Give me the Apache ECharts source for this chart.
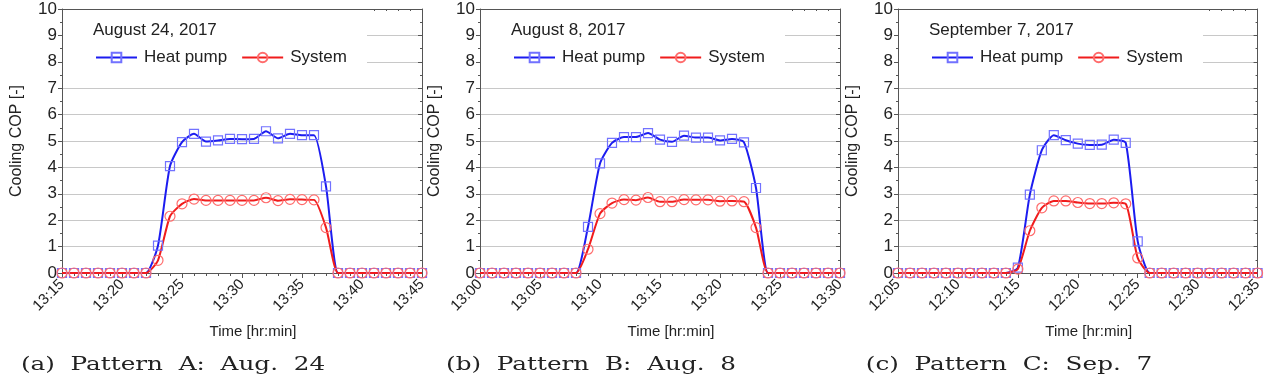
<!DOCTYPE html>
<html>
<head>
<meta charset="utf-8">
<script src="https://cdn.jsdelivr.net/npm/echarts@6/dist/echarts.min.js"></script>
<style>
html, body { margin: 0; padding: 0; background: #fff; }
#main { width: 1265px; height: 380px; }
</style>
</head>
<body>
<div id="main"></div>
<script>
// start of each panel's time axis, in minutes after midnight (one sample per minute, 31 samples)
var startA = 13 * 60 + 15;
var startB = 13 * 60;
var startC = 12 * 60 + 5;

var dateLabels = ['August 24, 2017', 'August 8, 2017', 'September 7, 2017'];
var captions = ['(a)  Pattern  A:  Aug.  24', '(b)  Pattern  B:  Aug.  8', '(c)  Pattern  C:  Sep.  7'];
var seriesNames = ['Heat pump', 'System'];

// Pattern A: Aug. 24, 13:15 - 13:45
var hpA = [0, 0, 0, 0, 0, 0, 0, 0,
    1.04, 4.05, 4.96, 5.27, 4.98, 5.02, 5.08, 5.07, 5.08, 5.37, 5.1, 5.27, 5.22, 5.22, 3.28,
    0, 0, 0, 0, 0, 0, 0, 0];
var sysA = [0, 0, 0, 0, 0, 0, 0, 0,
    0.48, 2.15, 2.62, 2.8, 2.75, 2.75, 2.75, 2.75, 2.75, 2.85, 2.74, 2.79, 2.78, 2.77, 1.72,
    0, 0, 0, 0, 0, 0, 0, 0];

// Pattern B: Aug. 8, 13:00 - 13:30
var hpB = [0, 0, 0, 0, 0, 0, 0, 0, 0,
    1.75, 4.15, 4.93, 5.15, 5.15, 5.3, 5.05, 4.97, 5.2, 5.13, 5.13, 5.02, 5.08, 4.95, 3.22,
    0, 0, 0, 0, 0, 0, 0];
var sysB = [0, 0, 0, 0, 0, 0, 0, 0, 0,
    0.9, 2.25, 2.65, 2.78, 2.76, 2.86, 2.7, 2.7, 2.78, 2.77, 2.77, 2.72, 2.73, 2.7, 1.72,
    0, 0, 0, 0, 0, 0, 0];

// Pattern C: Sep. 7, 12:05 - 12:35
var hpC = [0, 0, 0, 0, 0, 0, 0, 0, 0, 0,
    0.2, 2.97, 4.65, 5.22, 5.03, 4.9, 4.85, 4.86, 5.05, 4.93, 1.2,
    0, 0, 0, 0, 0, 0, 0, 0, 0, 0];
var sysC = [0, 0, 0, 0, 0, 0, 0, 0, 0, 0,
    0.15, 1.6, 2.47, 2.73, 2.73, 2.67, 2.63, 2.63, 2.66, 2.62, 0.57,
    0, 0, 0, 0, 0, 0, 0, 0, 0, 0];

var panels = [
    { start: startA, hp: hpA, sys: sysA },
    { start: startB, hp: hpB, sys: sysB },
    { start: startC, hp: hpC, sys: sysC }
];

var lefts = [62, 480, 898];
var gridTop = 9, gridW = 360, gridH = 264;
var axisColor = '#555';
var textColor = '#222';
var font = 'Liberation Sans';

function hhmm(v) {
    var h = Math.floor(v / 60), m = v % 60;
    return h + ':' + (m < 10 ? '0' + m : m);
}
function pairs(start, values) {
    return values.map(function (v, i) { return [start + i, v]; });
}

var myChart = echarts.init(document.getElementById('main'));
var grid = [], xAxis = [], yAxis = [], series = [], legend = [], title = [], graphic = [];

panels.forEach(function (p, i) {
    var L = lefts[i];
    grid.push({ left: L, top: gridTop, width: gridW, height: gridH });

    // bottom time axis
    xAxis.push({
        gridIndex: i, type: 'value', position: 'bottom',
        min: p.start, max: p.start + 30, interval: 5,
        axisLine: { show: true, onZero: false, lineStyle: { color: axisColor } },
        axisTick: { show: true, length: 5, lineStyle: { color: axisColor } },
        minorTick: { show: true, splitNumber: 5, length: 3, lineStyle: { color: axisColor } },
        splitLine: { show: false },
        axisLabel: {
            rotate: 45, fontSize: 15, color: textColor, fontFamily: font, margin: 9,
            showMinLabel: true, showMaxLabel: true, formatter: hhmm
        },
        name: 'Time [hr:min]', nameLocation: 'middle', nameGap: 51,
        nameTextStyle: { fontSize: 15, color: textColor, fontFamily: font, padding: [0, 0, 0, 22] }
    });
    // top frame
    xAxis.push({
        gridIndex: i, type: 'value', position: 'top',
        min: p.start, max: p.start + 30, interval: 5,
        axisLine: { show: true, onZero: false, lineStyle: { color: axisColor } },
        axisTick: { show: true, inside: true, length: 4, lineStyle: { color: axisColor } },
        minorTick: { show: true, splitNumber: 5, length: 2, lineStyle: { color: axisColor } },
        splitLine: { show: false },
        axisLabel: { show: false }
    });
    // left COP axis
    yAxis.push({
        gridIndex: i, type: 'value', position: 'left',
        min: 0, max: 10, interval: 1,
        axisLine: { show: true, onZero: false, lineStyle: { color: axisColor } },
        axisTick: { show: true, length: 4, lineStyle: { color: axisColor } },
        minorTick: { show: true, splitNumber: 2, length: 2, lineStyle: { color: axisColor } },
        splitLine: { show: true, lineStyle: { color: '#c8c8c8', width: 1 } },
        axisLabel: { fontSize: 17, color: textColor, fontFamily: font, margin: 5 },
        name: 'Cooling COP [-]', nameLocation: 'middle', nameGap: 37,
        nameTextStyle: { fontSize: 16, color: textColor, fontFamily: font }
    });
    // right frame
    yAxis.push({
        gridIndex: i, type: 'value', position: 'right',
        min: 0, max: 10, interval: 1,
        axisLine: { show: true, onZero: false, lineStyle: { color: axisColor } },
        axisTick: { show: true, inside: true, length: 4, lineStyle: { color: axisColor } },
        minorTick: { show: true, splitNumber: 2, length: 2, lineStyle: { color: axisColor } },
        splitLine: { show: false },
        axisLabel: { show: false }
    });

    series.push({
        name: seriesNames[0], type: 'line', xAxisIndex: 2 * i, yAxisIndex: 2 * i,
        data: pairs(p.start, p.hp), smooth: 0.2, showAllSymbol: true,
        symbol: 'rect', symbolSize: 9,
        lineStyle: { color: '#1c1cf0', width: 2 },
        itemStyle: { color: 'rgba(255,255,255,0)', borderColor: '#7272ff', borderWidth: 1.2 },
        emphasis: { disabled: true }
    });
    series.push({
        name: seriesNames[1], type: 'line', xAxisIndex: 2 * i, yAxisIndex: 2 * i,
        data: pairs(p.start, p.sys), smooth: 0.2, showAllSymbol: true,
        symbol: 'circle', symbolSize: 10,
        lineStyle: { color: '#f01c1c', width: 2 },
        itemStyle: { color: 'rgba(255,255,255,0)', borderColor: '#ff6c6c', borderWidth: 1.2 },
        emphasis: { disabled: true }
    });

    legend.push({
        data: seriesNames, left: L + 28, top: 44, orient: 'horizontal',
        itemWidth: 41, itemHeight: 12, itemGap: 14, selectedMode: false,
        textStyle: { fontSize: 17, color: textColor, fontFamily: font, padding: [0, 0, 0, 2] }
    });
    title.push({
        text: dateLabels[i], left: L + 31, top: 22, padding: 0,
        textStyle: { fontSize: 17, fontWeight: 'normal', color: textColor, fontFamily: font }
    });
    // white legend box hiding the grid lines behind it
    graphic.push({
        type: 'rect', z: 1, silent: true,
        shape: { x: L + 1, y: gridTop + 1, width: 304, height: 66 },
        style: { fill: '#fff' }
    });
    graphic.push({
        type: 'text', x: L + 111, y: 365, scaleX: 1.3, silent: true,
        style: {
            text: captions[i], fill: textColor, align: 'center', verticalAlign: 'middle',
            font: '19px "DejaVu Serif"'
        }
    });
});

myChart.setOption({
    animation: false,
    grid: grid,
    xAxis: xAxis,
    yAxis: yAxis,
    legend: legend,
    title: title,
    graphic: graphic,
    series: series
});
</script>
</body>
</html>
